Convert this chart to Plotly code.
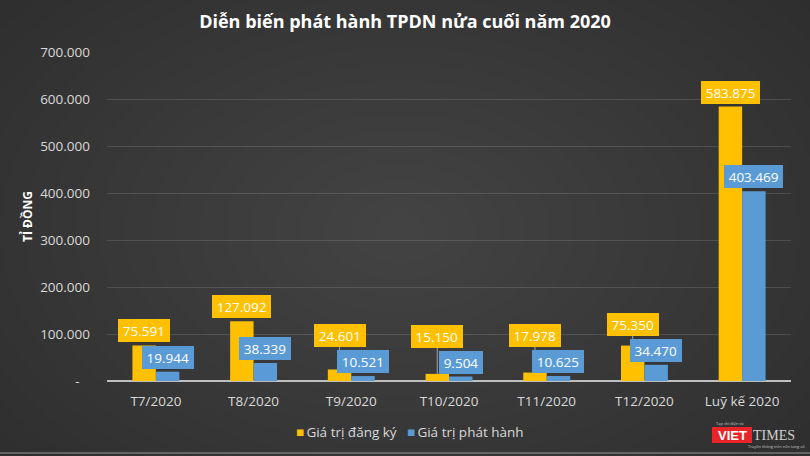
import plotly.graph_objects as go

# ---------------- data ----------------
categories = ["T7/2020", "T8/2020", "T9/2020", "T10/2020", "T11/2020", "T12/2020", "Luỹ kế 2020"]
dang_ky = [75591, 127092, 24601, 15150, 17978, 75350, 583875]
phat_hanh = [19944, 38339, 10521, 9504, 10625, 34470, 403469]
dang_ky_text = ["75.591", "127.092", "24.601", "15.150", "17.978", "75.350", "583.875"]
phat_hanh_text = ["19.944", "38.339", "10.521", "9.504", "10.625", "34.470", "403.469"]
y_tickvals = [0, 100000, 200000, 300000, 400000, 500000, 600000, 700000]
y_ticktext = ["-\u00a0\u00a0\u00a0", "100.000", "200.000", "300.000", "400.000", "500.000", "600.000", "700.000"]
series_names = ["Giá trị đăng ký", "Giá trị phát hành"]
title_text = "Diễn biến phát hành TPDN nửa cuối năm 2020"
y_title = "TỈ ĐỒNG"

# ---------------- layout geometry ----------------
FW, FH = 810, 456
ML, MR, MT, MB = 107, 19, 52, 75
PW = FW - ML - MR
PH = FH - MT - MB
YMAX = 700000
ppu = PH / YMAX  # pixels per unit

YELLOW = "#FFC000"
BLUE = "#5B9BD5"
FONT = "Open Sans"


def px_x(px):
    return (px - ML) / PW


def px_y(py):
    return (FH - MB - py) / PH


fig = go.Figure()
fig.add_trace(go.Bar(x=categories, y=dang_ky, name=series_names[0],
                     marker=dict(color=YELLOW, line=dict(width=0))))
fig.add_trace(go.Bar(x=categories, y=phat_hanh, name=series_names[1],
                     marker=dict(color=BLUE, line=dict(width=0))))

# ---------------- background radial gradient ----------------
shapes = []
N = 24
cx, cy = 400, 230
for k in range(N):
    f = 1 - k / N
    rx, ry = 600 * f, 400 * f
    shapes.append(dict(type="circle", xref="paper", yref="paper", layer="below",
                       x0=px_x(cx - rx), x1=px_x(cx + rx),
                       y0=px_y(cy + ry), y1=px_y(cy - ry),
                       fillcolor="rgba(255,255,255,0.009)", line=dict(width=0)))
# bottom border line
shapes.append(dict(type="line", xref="paper", yref="paper", layer="below",
                   x0=px_x(0), x1=px_x(FW), y0=px_y(453), y1=px_y(453),
                   line=dict(color="rgba(220,220,220,0.6)", width=1)))

# ---------------- data labels ----------------
annotations = []
LH = 23  # label box height in px
bar_frac = 0.12  # centre of each bar relative to category centre (fraction of category)
bar_offset = PW / len(categories) * bar_frac
for i, cat in enumerate(categories):
    b_top = phat_hanh[i] * ppu
    y_top = dang_ky[i] * ppu
    blue_label_top = b_top + 3 + LH
    y_bottom = max(y_top + 3, blue_label_top + 3)
    annotations.append(dict(x=cat, y=phat_hanh[i], xref="x", yref="y",
                            text=phat_hanh_text[i], showarrow=False,
                            xshift=bar_offset, yshift=3, yanchor="bottom",
                            bgcolor=BLUE, borderpad=0, borderwidth=0,
                            width=7.6 * len(phat_hanh_text[i]) + 6, height=LH,
                            font=dict(family=FONT, size=13.5, color="white")))
    annotations.append(dict(x=cat, y=dang_ky[i], xref="x", yref="y",
                            text=dang_ky_text[i], showarrow=False,
                            xshift=-bar_offset, yshift=y_bottom - y_top, yanchor="bottom",
                            bgcolor=YELLOW, borderpad=0, borderwidth=0,
                            width=7.6 * len(dang_ky_text[i]) + 6, height=LH,
                            font=dict(family=FONT, size=13.5, color="white")))
    # leader line for displaced labels
    if y_bottom - y_top > 5:
        shapes.append(dict(type="line", xref="x", yref="y", layer="above",
                           x0=cat, x1=cat, x0shift=-bar_frac, x1shift=-bar_frac,
                           y0=dang_ky[i], y1=y_bottom / ppu,
                           line=dict(color="rgba(190,190,190,0.8)", width=1)))

# ---------------- legend (Excel-style small squares) ----------------
legend_colors = [YELLOW, BLUE]
legend_x = [294, 405]
for name, col, lx in zip(series_names, legend_colors, legend_x):
    annotations.append(dict(xref="paper", yref="paper", x=px_x(lx), y=px_y(432),
                            xanchor="left", yanchor="middle", showarrow=False,
                            text=f"<span style='color:{col}'>■</span>\u2009{name}",
                            font=dict(family=FONT, size=13.5, color="#d9d9d9")))

# ---------------- logo ----------------
shapes.append(dict(type="rect", xref="paper", yref="paper", layer="above",
                   x0=px_x(712), x1=px_x(752), y0=px_y(443), y1=px_y(427),
                   fillcolor="#E8262A", line=dict(width=0)))
annotations.append(dict(xref="paper", yref="paper", x=px_x(732), y=px_y(435),
                        text="<b>VIET</b>", showarrow=False, xanchor="center", yanchor="middle",
                        font=dict(family="Liberation Sans", size=13, color="white")))
annotations.append(dict(xref="paper", yref="paper", x=px_x(751), y=px_y(435),
                        text="TIMES", showarrow=False, xanchor="left", yanchor="middle",
                        font=dict(family="Liberation Serif", size=14, color="#cfcfcf")))
annotations.append(dict(xref="paper", yref="paper", x=px_x(730), y=px_y(423),
                        text="Tạp chí điện tử", showarrow=False, xanchor="center", yanchor="middle",
                        font=dict(family=FONT, size=4, color="#cccccc")))
annotations.append(dict(xref="paper", yref="paper", x=px_x(776), y=px_y(446),
                        text="Truyền thông trên nền tảng số", showarrow=False, xanchor="center",
                        yanchor="middle", font=dict(family=FONT, size=4, color="#cccccc")))

fig.update_layout(
    width=FW, height=FH,
    margin=dict(l=ML, r=MR, t=MT, b=MB, autoexpand=False),
    paper_bgcolor="#2b2b2b",
    plot_bgcolor="rgba(0,0,0,0)",
    barmode="group", bargap=0.52, bargroupgap=0,
    title=dict(text="<b>" + title_text + "</b>", x=0.5, xref="container", xanchor="center",
               y=1 - 22 / FH, yref="container", yanchor="middle",
               font=dict(family=FONT, size=18, color="white")),
    font=dict(family=FONT, size=13, color="#d9d9d9"),
    showlegend=False,
    shapes=shapes,
    annotations=annotations,
)
fig.update_xaxes(showgrid=False, showline=False, ticks="", ticklabelstandoff=10, automargin=False,
                 tickfont=dict(family=FONT, size=13.5, color="#d9d9d9"))
fig.update_yaxes(range=[0, YMAX], tickvals=y_tickvals, ticktext=y_ticktext, automargin=False,
                 showgrid=True, gridcolor="rgba(255,255,255,0.13)", gridwidth=1,
                 zeroline=True, zerolinecolor="#bfbfbf", zerolinewidth=2,
                 showline=False, ticks="", ticklabelstandoff=16,
                 tickfont=dict(family=FONT, size=13.5, color="#d9d9d9"),
                 title=dict(text="<b>" + y_title + "</b>", standoff=4,
                            font=dict(family=FONT, size=12, color="white")))

fig.write_html("out.html", config={"displayModeBar": False},
               post_script="document.body.style.margin='0';document.body.style.overflow='hidden';")
